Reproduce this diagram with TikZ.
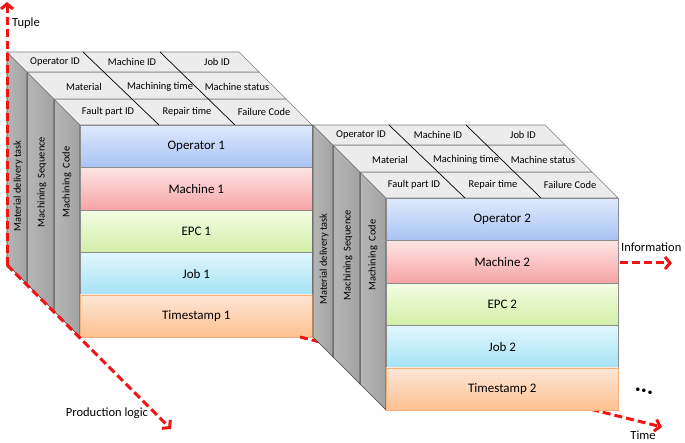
\documentclass[tikz,border=0pt]{standalone}
\usepackage{fontspec}
\setmainfont{Carlito}
\usetikzlibrary{arrows.meta}
\definecolor{blueT}{HTML}{DEE9FD}
\definecolor{blueB}{HTML}{A8C3F3}
\definecolor{redT}{HTML}{FDE4E4}
\definecolor{redB}{HTML}{F7A4A4}
\definecolor{greenT}{HTML}{F4FDE3}
\definecolor{greenB}{HTML}{D2EFA8}
\definecolor{cyanT}{HTML}{E2F7FD}
\definecolor{cyanB}{HTML}{A4E2F6}
\definecolor{orangeT}{HTML}{FEE6D6}
\definecolor{orangeB}{HTML}{FCC190}
\definecolor{orangeL}{HTML}{F6B07C}
\definecolor{rowline}{HTML}{8C8C8C}
\definecolor{sideL}{HTML}{B6B6B6}
\definecolor{sideR}{HTML}{A2A2A2}
\definecolor{topgray}{HTML}{ECECEC}
\definecolor{axisred}{HTML}{F01414}
\tikzset{
  sideslab/.style={left color=sideL, right color=sideR, draw=black!75, line width=0.6pt},
  topcell/.style={fill=topgray, draw=gray, line width=0.6pt},
  divider/.style={draw=black, line width=0.7pt},
  toplabel/.style={font=\fontsize{10.4}{12}\selectfont, inner sep=0pt},
  sidelabel/.style={font=\fontsize{10.4}{12}\selectfont, rotate=90, inner sep=0pt},
  rowbox/.style={minimum width=232pt, minimum height=42.4pt, anchor=north west,
    inner sep=0pt, font=\fontsize{13}{15}\selectfont, line width=0.6pt, draw=rowline},
  axisline/.style={draw=axisred, line width=3pt, dash pattern=on 8pt off 4pt,
    -{Straight Barb[length=5pt,width=12pt]}},
  axislabel/.style={font=\fontsize{12.5}{14}\selectfont, inner sep=0pt}
}
\newcommand\datacube[2]{%
  % side slabs
  \draw[sideslab] (80,125) -- (54,99) -- (54,311) -- (80,337) -- cycle;
  \draw[sideslab] (54,99) -- (27,72) -- (27,284) -- (54,311) -- cycle;
  \draw[sideslab] (27,72) -- (7,52) -- (7,264) -- (27,284) -- cycle;
  % top rows
  \draw[topcell] (80,125) -- (312,125) -- (286,99) -- (54,99) -- cycle;
  \draw[topcell] (54,99) -- (286,99) -- (259,72) -- (27,72) -- cycle;
  \draw[topcell] (27,72) -- (259,72) -- (239,52) -- (7,52) -- cycle;
  \draw[divider] (83,52) -- (159,125);
  \draw[divider] (160,52) -- (235,125);
  % top labels
  \node[toplabel] (opid#1) at (55,62) {Operator ID};
  \node[toplabel] (maid#1) at (132,62) {Machine ID};
  \node[toplabel] (jbid#1) at (217,62) {Job ID};
  \node[toplabel] (mat#1) at (84,87) {Material};
  \node[toplabel] (mtime#1) at (160,87) {Machining time};
  \node[toplabel] (mstat#1) at (237,87) {Machine status};
  \node[toplabel] (fault#1) at (108,112) {Fault part ID};
  \node[toplabel] (rep#1) at (187,112) {Repair time};
  \node[toplabel] (fail#1) at (264,112) {Failure Code};
  % side labels
  \node[sidelabel] (mdt#1) at (18,186) {Material delivery task};
  \node[sidelabel] (mseq#1) at (42,182) {Machining\ \ Sequence};
  \node[sidelabel] (mcode#1) at (67,182) {Machining\ \ Code};
  % front rows
  \node[rowbox, top color=blueT, bottom color=blueB] (op#1) at (80,125) {Operator #2};
  \node[rowbox, top color=redT, bottom color=redB] (ma#1) at (80,167.4) {Machine #2};
  \node[rowbox, top color=greenT, bottom color=greenB] (epc#1) at (80,209.8) {EPC #2};
  \node[rowbox, top color=cyanT, bottom color=cyanB] (job#1) at (80,252.2) {Job #2};
  \node[rowbox, top color=orangeT, bottom color=orangeB, draw=orangeL] (ts#1) at (80,294.6) {Timestamp #2};
}
\begin{document}
\begin{tikzpicture}[x=1pt,y=-1pt]
\useasboundingbox (0,0) rectangle (685,443);
\datacube{a}{1}
\coordinate (origin) at (7,265);
\coordinate (tupletip) at (7,2);
\coordinate (prodtip) at (171,429);
\coordinate (timestart) at (300,337);
\coordinate (timetip) at (662,427);
\draw[axisline] (origin) -- (tupletip);
\draw[axisline] (origin) -- (prodtip);
\draw[axisline] (timestart) -- (timetip);
\begin{scope}[shift={(306,73)}]
\datacube{b}{2}
\end{scope}
\coordinate (infostart) at (620,263);
\coordinate (infotip) at (672,263);
\draw[axisline] (infostart) -- (infotip);
\node[axislabel, anchor=west] (tuplelbl) at (12,23) {Tuple};
\node[axislabel] (prodlbl) at (107,413) {Production logic};
\node[axislabel] (timelbl) at (643,435) {Time};
\node[axislabel, anchor=west] (infolbl) at (621,247) {Information};
\node[inner sep=0pt, rotate=-15, font=\fontsize{24}{24}\bfseries] (dots) at (644,391) {...};
\end{tikzpicture}
\end{document}
